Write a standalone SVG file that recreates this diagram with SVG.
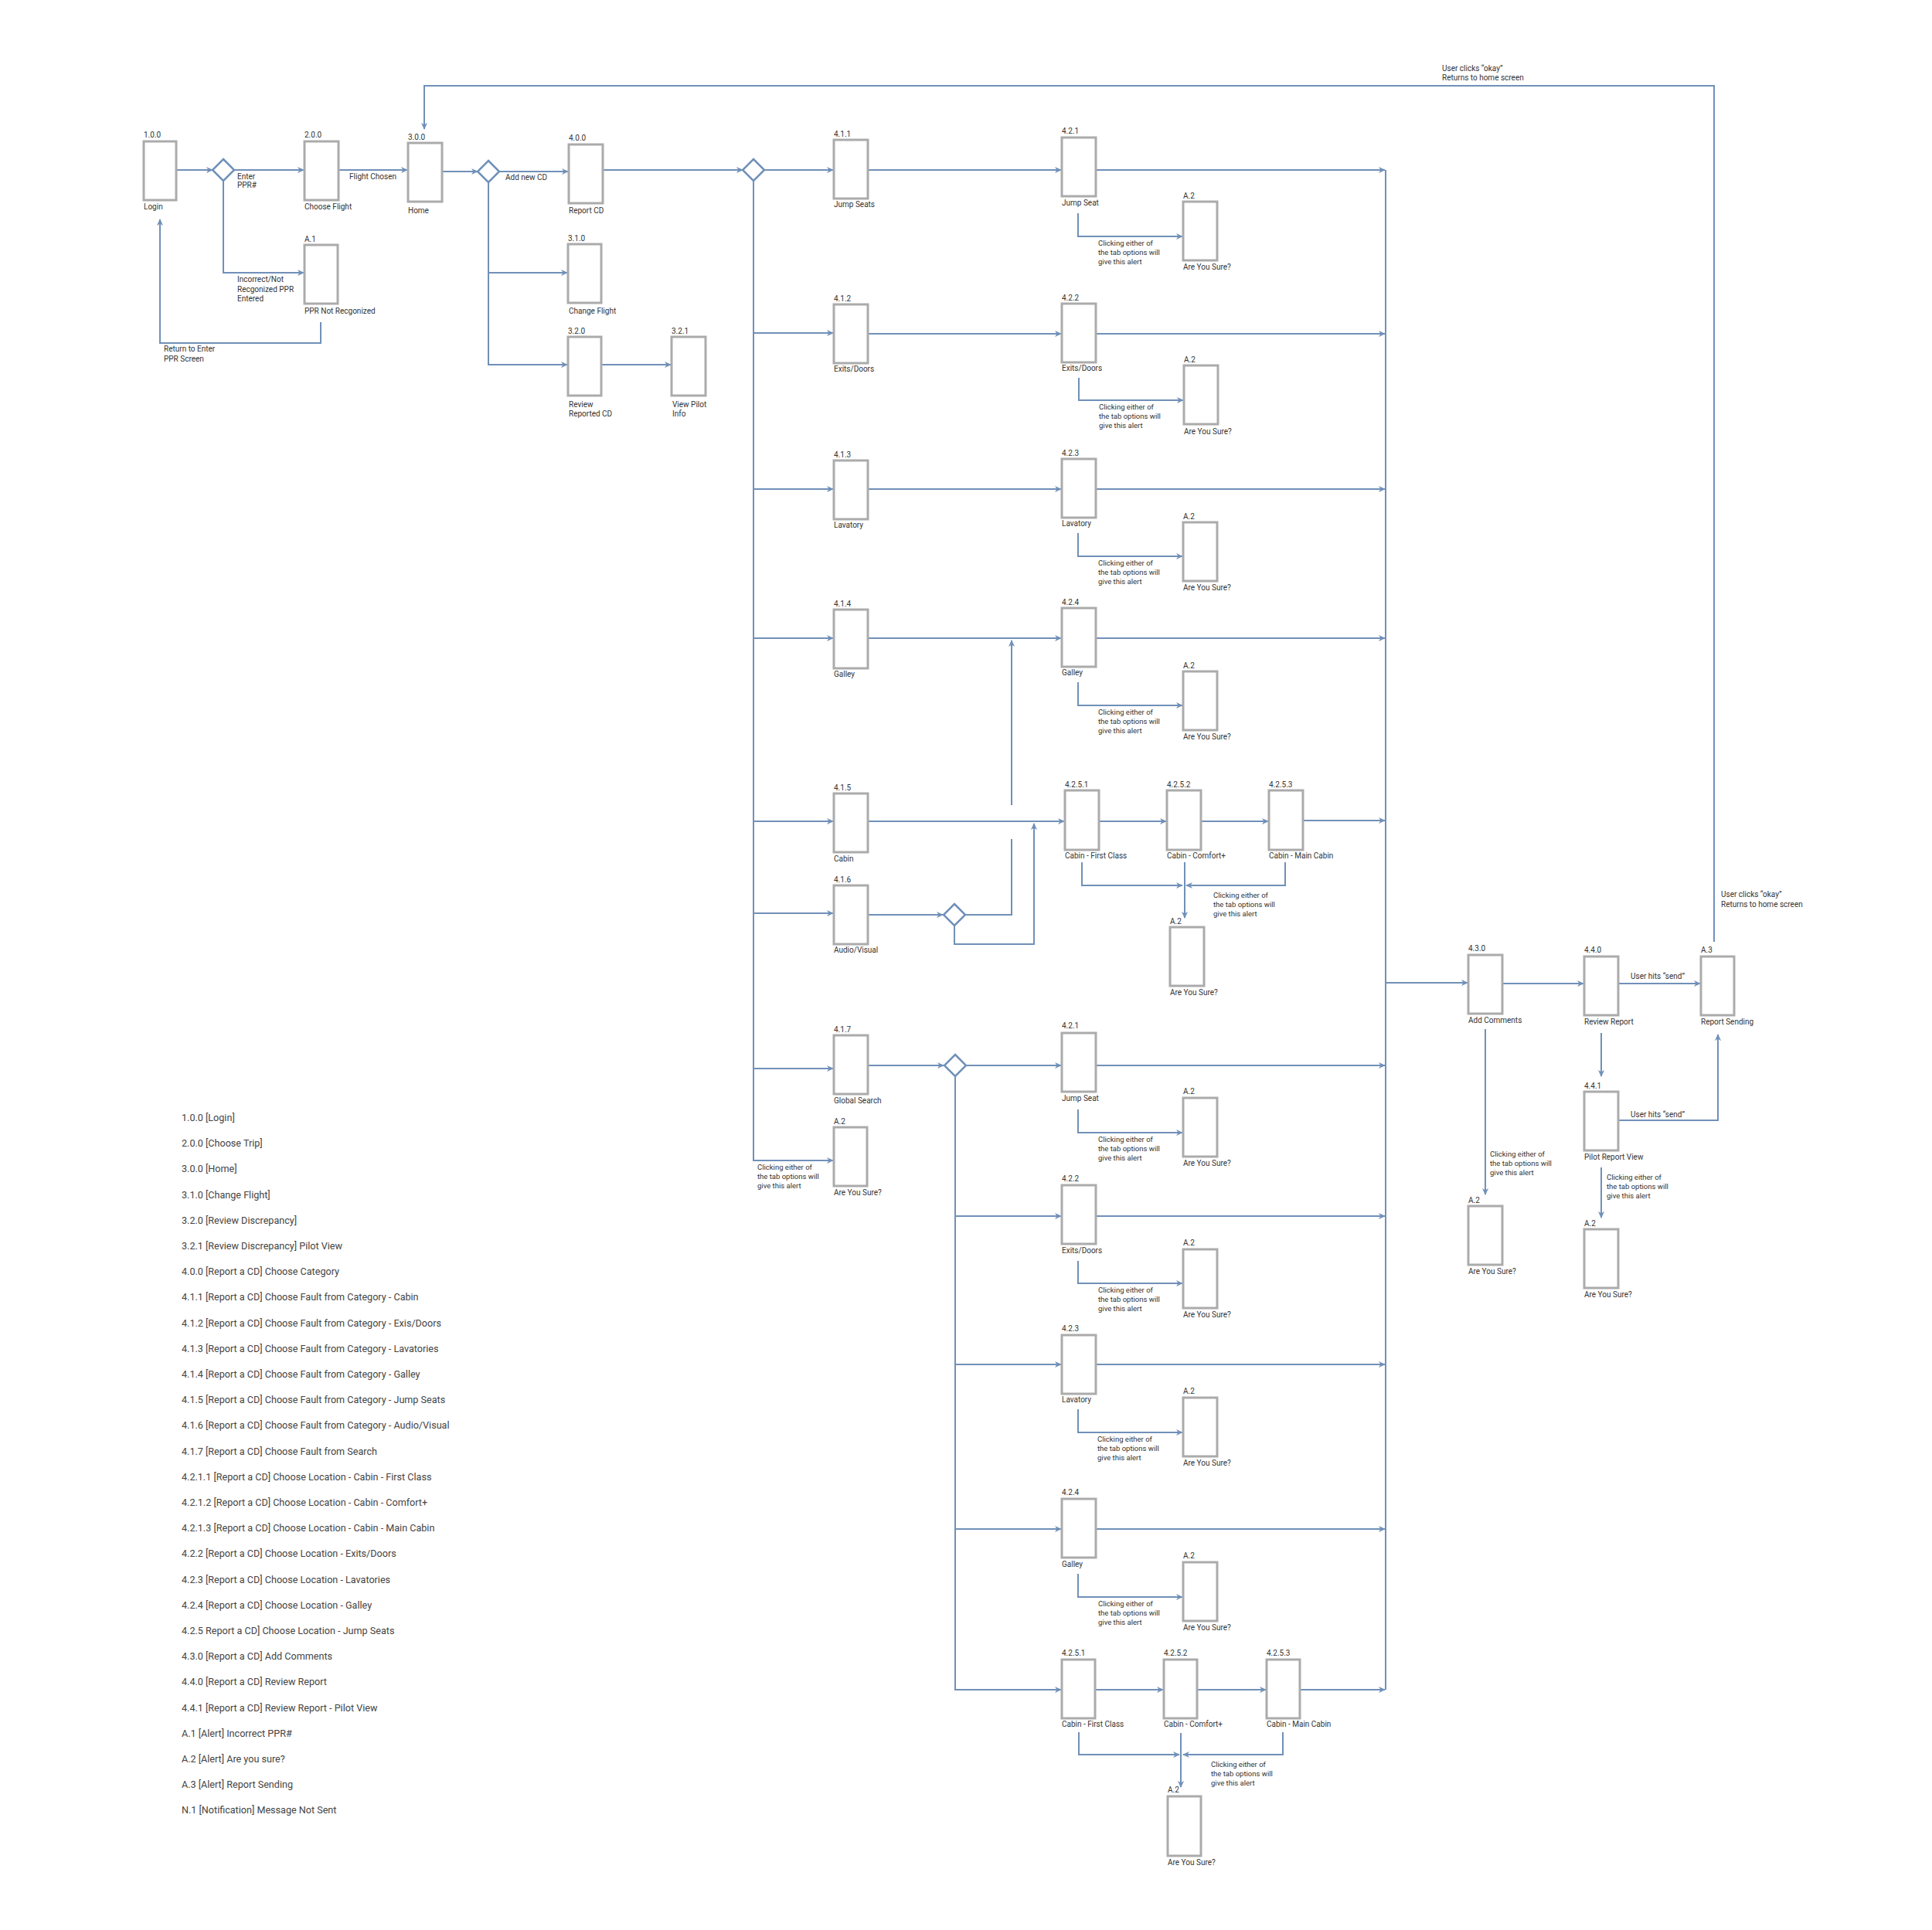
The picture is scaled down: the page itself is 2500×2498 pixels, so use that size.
<svg xmlns="http://www.w3.org/2000/svg" width="2500" height="2498" viewBox="0 0 2500 2498">
<defs>
<style>
.box{fill:#fff;stroke:#ababab;stroke-width:3}
.c{fill:none;stroke:#7090b8;stroke-width:2}
.a{marker-end:url(#ah)}
.dia{fill:#fff;stroke:#7090b8;stroke-width:2.5}
text{font-family:Roboto,"Liberation Sans",sans-serif;fill:#333;font-size:10px}
.s{font-size:9.5px}
.lg{font-size:12.6px;fill:#444}
</style>
<marker id="ah" viewBox="0 0 10 10" refX="9" refY="5" markerWidth="9" markerHeight="9" markerUnits="userSpaceOnUse" orient="auto"><path d="M0,0.5 L10,5 L0,9.5 L3,5 Z" fill="#7090b8"/></marker>
</defs>
<rect width="2500" height="2498" fill="#fff"/>

<g id="connectors">
<path class="c a" d="M229,220 H275"/>
<path class="c a" d="M303,220 H393"/>
<path class="c a" d="M289,234 V353 H393"/>
<path class="c a" d="M415,417 V444 H207 V284"/>
<path class="c a" d="M438,220 H527"/>
<path class="c a" d="M572,222 H618"/>
<path class="c a" d="M646,222 H735"/>
<path class="c a" d="M632,236 V472 H734"/>
<path class="c a" d="M632,353 H734"/>
<path class="c a" d="M778,472 H868"/>
<path class="c a" d="M780,220 H961"/>
<path class="c a" d="M989,220 H1078"/>
<path class="c a" d="M975,234 V1502 H1078"/>
<path class="c a" d="M975,431 H1078"/>
<path class="c a" d="M975,633 H1078"/>
<path class="c a" d="M975,826 H1078"/>
<path class="c a" d="M975,1063 H1078"/>
<path class="c a" d="M975,1182 H1078"/>
<path class="c a" d="M975,1383 H1078"/>
<path class="c a" d="M1123,220 H1373"/>
<path class="c a" d="M1418,220 H1792"/>
<path class="c a" d="M1395,276 V306 H1530"/>
<path class="c a" d="M1123,432 H1373"/>
<path class="c a" d="M1418,432 H1792"/>
<path class="c a" d="M1396,489 V518 H1531"/>
<path class="c a" d="M1123,633 H1373"/>
<path class="c a" d="M1418,633 H1792"/>
<path class="c a" d="M1395,690 V720 H1530"/>
<path class="c a" d="M1123,826 H1373"/>
<path class="c a" d="M1418,826 H1792"/>
<path class="c a" d="M1395,883 V913 H1530"/>
<path class="c a" d="M1123,1063 H1377"/>
<path class="c a" d="M1422,1063 H1509"/>
<path class="c a" d="M1554,1063 H1641"/>
<path class="c a" d="M1686,1062 H1792"/>
<path class="c a" d="M1400,1116 V1146 H1530"/>
<path class="c a" d="M1663,1116 V1146 H1535"/>
<path class="c a" d="M1533,1116 V1188"/>
<path class="c a" d="M1123,1184 H1220"/>
<path class="c" d="M1249,1184 H1309 V1086"/>
<path class="c a" d="M1309,1042 V829"/>
<path class="c a" d="M1235,1198 V1222 H1338 V1066"/>
<path class="c a" d="M1123,1379 H1221"/>
<path class="c a" d="M1250,1379 H1373"/>
<path class="c a" d="M1236,1393 V2187 H1373"/>
<path class="c a" d="M1236,1574 H1373"/>
<path class="c a" d="M1236,1766 H1373"/>
<path class="c a" d="M1236,1979 H1373"/>
<path class="c a" d="M1418,1379 H1792"/>
<path class="c a" d="M1395,1436 V1466 H1530"/>
<path class="c a" d="M1418,1574 H1792"/>
<path class="c a" d="M1395,1632 V1661 H1530"/>
<path class="c a" d="M1418,1766 H1792"/>
<path class="c a" d="M1395,1824 V1854 H1530"/>
<path class="c a" d="M1418,1979 H1792"/>
<path class="c a" d="M1395,2037 V2067 H1530"/>
<path class="c a" d="M1417,2187 H1505"/>
<path class="c a" d="M1549,2187 H1638"/>
<path class="c a" d="M1682,2187 H1792"/>
<path class="c a" d="M1396,2242 V2271 H1526"/>
<path class="c a" d="M1660,2242 V2271 H1531"/>
<path class="c a" d="M1528,2243 V2313"/>
<path class="c" d="M1793,220 V2187"/>
<path class="c a" d="M1793,1272 H1899"/>
<path class="c a" d="M1944,1273 H2049"/>
<path class="c a" d="M2094,1273 H2200"/>
<path class="c a" d="M2072,1337 V1393"/>
<path class="c a" d="M2094,1450 H2223 V1339"/>
<path class="c a" d="M1922,1332 V1546"/>
<path class="c a" d="M2072,1511 V1576"/>
<path class="c a" d="M2218,1219 V111 H549 V167"/>
<text x="307" y="232">Enter</text><text x="307" y="243">PPR#</text>
<text x="452" y="232">Flight Chosen</text>
<text x="307" y="365">Incorrect/Not</text><text x="307" y="378">Recgonized PPR</text><text x="307" y="390">Entered</text>
<text x="212" y="455">Return to Enter</text><text x="212" y="468">PPR Screen</text>
<text x="654" y="233">Add new CD</text>
<text x="1866" y="92">User clicks “okay”</text><text x="1866" y="104">Returns to home screen</text>
<text x="2227" y="1161">User clicks “okay”</text><text x="2227" y="1174">Returns to home screen</text>
<text x="2110" y="1267">User hits “send”</text>
<text x="2110" y="1446">User hits “send”</text>
<text class="s" x="1421" y="318">Clicking either of</text><text class="s" x="1421" y="330">the tab options will</text><text class="s" x="1421" y="342">give this alert</text>
<text class="s" x="1422" y="530">Clicking either of</text><text class="s" x="1422" y="542">the tab options will</text><text class="s" x="1422" y="554">give this alert</text>
<text class="s" x="1421" y="732">Clicking either of</text><text class="s" x="1421" y="744">the tab options will</text><text class="s" x="1421" y="756">give this alert</text>
<text class="s" x="1421" y="925">Clicking either of</text><text class="s" x="1421" y="937">the tab options will</text><text class="s" x="1421" y="949">give this alert</text>
<text class="s" x="1570" y="1162">Clicking either of</text><text class="s" x="1570" y="1174">the tab options will</text><text class="s" x="1570" y="1186">give this alert</text>
<text class="s" x="980" y="1514">Clicking either of</text><text class="s" x="980" y="1526">the tab options will</text><text class="s" x="980" y="1538">give this alert</text>
<text class="s" x="1421" y="1478">Clicking either of</text><text class="s" x="1421" y="1490">the tab options will</text><text class="s" x="1421" y="1502">give this alert</text>
<text class="s" x="1421" y="1673">Clicking either of</text><text class="s" x="1421" y="1685">the tab options will</text><text class="s" x="1421" y="1697">give this alert</text>
<text class="s" x="1420" y="1866">Clicking either of</text><text class="s" x="1420" y="1878">the tab options will</text><text class="s" x="1420" y="1890">give this alert</text>
<text class="s" x="1421" y="2079">Clicking either of</text><text class="s" x="1421" y="2091">the tab options will</text><text class="s" x="1421" y="2103">give this alert</text>
<text class="s" x="1567" y="2287">Clicking either of</text><text class="s" x="1567" y="2299">the tab options will</text><text class="s" x="1567" y="2311">give this alert</text>
<text class="s" x="1928" y="1497">Clicking either of</text><text class="s" x="1928" y="1509">the tab options will</text><text class="s" x="1928" y="1521">give this alert</text>
<text class="s" x="2079" y="1527">Clicking either of</text><text class="s" x="2079" y="1539">the tab options will</text><text class="s" x="2079" y="1551">give this alert</text>
</g>

<g id="d1"><polygon class="dia" points="289,206 303,220 289,234 275,220"/></g>
<g id="d2"><polygon class="dia" points="632,208 646,222 632,236 618,222"/></g>
<g id="d3"><polygon class="dia" points="975,206 989,220 975,234 961,220"/></g>
<g id="d4"><polygon class="dia" points="1235,1170 1249,1184 1235,1198 1221,1184"/></g>
<g id="d5"><polygon class="dia" points="1236,1365 1250,1379 1236,1393 1222,1379"/></g>

<g id="n-1-0-0"><rect class="box" x="186" y="183" width="42" height="76"/><text x="186" y="178">1.0.0</text><text x="186" y="271">Login</text></g>
<g id="n-2-0-0"><rect class="box" x="394" y="183" width="44" height="76"/><text x="394" y="178">2.0.0</text><text x="394" y="271">Choose Flight</text></g>
<g id="n-A-1"><rect class="box" x="394" y="317" width="43" height="76"/><text x="394" y="313">A.1</text><text x="394" y="406">PPR Not Recgonized</text></g>
<g id="n-3-0-0"><rect class="box" x="528" y="185" width="44" height="76"/><text x="528" y="181">3.0.0</text><text x="528" y="276">Home</text></g>
<g id="n-4-0-0"><rect class="box" x="736" y="187" width="44" height="76"/><text x="736" y="182">4.0.0</text><text x="736" y="276">Report CD</text></g>
<g id="n-3-1-0"><rect class="box" x="735" y="316" width="43" height="76"/><text x="735" y="312">3.1.0</text><text x="736" y="406">Change Flight</text></g>
<g id="n-3-2-0"><rect class="box" x="735" y="436" width="43" height="76"/><text x="735" y="432">3.2.0</text><text x="736" y="527">Review</text><text x="736" y="539">Reported CD</text></g>
<g id="n-3-2-1"><rect class="box" x="869" y="436" width="44" height="76"/><text x="869" y="432">3.2.1</text><text x="870" y="527">View Pilot</text><text x="870" y="539">Info</text></g>

<g id="n-4-1-1"><rect class="box" x="1079" y="181" width="44" height="76"/><text x="1079" y="177">4.1.1</text><text x="1079" y="268">Jump Seats</text></g>
<g id="n-4-1-2"><rect class="box" x="1079" y="394" width="44" height="76"/><text x="1079" y="390">4.1.2</text><text x="1079" y="481">Exits/Doors</text></g>
<g id="n-4-1-3"><rect class="box" x="1079" y="596" width="44" height="76"/><text x="1079" y="592">4.1.3</text><text x="1079" y="683">Lavatory</text></g>
<g id="n-4-1-4"><rect class="box" x="1079" y="789" width="44" height="76"/><text x="1079" y="785">4.1.4</text><text x="1079" y="876">Galley</text></g>
<g id="n-4-1-5"><rect class="box" x="1079" y="1027" width="44" height="76"/><text x="1079" y="1023">4.1.5</text><text x="1079" y="1115">Cabin</text></g>
<g id="n-4-1-6"><rect class="box" x="1079" y="1146" width="44" height="76"/><text x="1079" y="1142">4.1.6</text><text x="1079" y="1233">Audio/Visual</text></g>
<g id="n-4-1-7"><rect class="box" x="1079" y="1340" width="44" height="76"/><text x="1079" y="1336">4.1.7</text><text x="1079" y="1428">Global Search</text></g>
<g id="n-A-2-a"><rect class="box" x="1079" y="1459" width="43" height="76"/><text x="1079" y="1455">A.2</text><text x="1079" y="1547">Are You Sure?</text></g>

<g id="n-4-2-1"><rect class="box" x="1374" y="178" width="44" height="76"/><text x="1374" y="173">4.2.1</text><text x="1374" y="266">Jump Seat</text></g>
<g id="n-A-2-b"><rect class="box" x="1531" y="261" width="44" height="76"/><text x="1531" y="257">A.2</text><text x="1531" y="349">Are You Sure?</text></g>
<g id="n-4-2-2"><rect class="box" x="1374" y="393" width="44" height="76"/><text x="1374" y="389">4.2.2</text><text x="1374" y="480">Exits/Doors</text></g>
<g id="n-A-2-c"><rect class="box" x="1532" y="473" width="44" height="76"/><text x="1532" y="469">A.2</text><text x="1532" y="562">Are You Sure?</text></g>
<g id="n-4-2-3"><rect class="box" x="1374" y="594" width="44" height="76"/><text x="1374" y="590">4.2.3</text><text x="1374" y="681">Lavatory</text></g>
<g id="n-A-2-d"><rect class="box" x="1531" y="676" width="44" height="76"/><text x="1531" y="672">A.2</text><text x="1531" y="764">Are You Sure?</text></g>
<g id="n-4-2-4"><rect class="box" x="1374" y="787" width="44" height="76"/><text x="1374" y="783">4.2.4</text><text x="1374" y="874">Galley</text></g>
<g id="n-A-2-e"><rect class="box" x="1531" y="869" width="44" height="76"/><text x="1531" y="865">A.2</text><text x="1531" y="957">Are You Sure?</text></g>
<g id="n-4-2-5-1"><rect class="box" x="1378" y="1023" width="44" height="77"/><text x="1378" y="1019">4.2.5.1</text><text x="1378" y="1111">Cabin - First Class</text></g>
<g id="n-4-2-5-2"><rect class="box" x="1510" y="1023" width="44" height="77"/><text x="1510" y="1019">4.2.5.2</text><text x="1510" y="1111">Cabin - Comfort+</text></g>
<g id="n-4-2-5-3"><rect class="box" x="1642" y="1023" width="44" height="77"/><text x="1642" y="1019">4.2.5.3</text><text x="1642" y="1111">Cabin - Main Cabin</text></g>
<g id="n-A-2-f"><rect class="box" x="1514" y="1200" width="44" height="76"/><text x="1514" y="1196">A.2</text><text x="1514" y="1288">Are You Sure?</text></g>

<g id="n-4-2-1-b"><rect class="box" x="1374" y="1337" width="44" height="76"/><text x="1374" y="1331">4.2.1</text><text x="1374" y="1425">Jump Seat</text></g>
<g id="n-A-2-g"><rect class="box" x="1531" y="1421" width="44" height="76"/><text x="1531" y="1416">A.2</text><text x="1531" y="1509">Are You Sure?</text></g>
<g id="n-4-2-2-b"><rect class="box" x="1374" y="1534" width="44" height="76"/><text x="1374" y="1529">4.2.2</text><text x="1374" y="1622">Exits/Doors</text></g>
<g id="n-A-2-h"><rect class="box" x="1531" y="1617" width="44" height="76"/><text x="1531" y="1612">A.2</text><text x="1531" y="1705">Are You Sure?</text></g>
<g id="n-4-2-3-b"><rect class="box" x="1374" y="1728" width="44" height="76"/><text x="1374" y="1723">4.2.3</text><text x="1374" y="1815">Lavatory</text></g>
<g id="n-A-2-i"><rect class="box" x="1531" y="1809" width="44" height="76"/><text x="1531" y="1804">A.2</text><text x="1531" y="1897">Are You Sure?</text></g>
<g id="n-4-2-4-b"><rect class="box" x="1374" y="1940" width="44" height="76"/><text x="1374" y="1935">4.2.4</text><text x="1374" y="2028">Galley</text></g>
<g id="n-A-2-j"><rect class="box" x="1531" y="2022" width="44" height="76"/><text x="1531" y="2017">A.2</text><text x="1531" y="2110">Are You Sure?</text></g>
<g id="n-4-2-5-1-b"><rect class="box" x="1374" y="2148" width="43" height="76"/><text x="1374" y="2143">4.2.5.1</text><text x="1374" y="2235">Cabin - First Class</text></g>
<g id="n-4-2-5-2-b"><rect class="box" x="1506" y="2148" width="43" height="76"/><text x="1506" y="2143">4.2.5.2</text><text x="1506" y="2235">Cabin - Comfort+</text></g>
<g id="n-4-2-5-3-b"><rect class="box" x="1639" y="2148" width="43" height="76"/><text x="1639" y="2143">4.2.5.3</text><text x="1639" y="2235">Cabin - Main Cabin</text></g>
<g id="n-A-2-k"><rect class="box" x="1511" y="2325" width="43" height="77"/><text x="1511" y="2320">A.2</text><text x="1511" y="2414">Are You Sure?</text></g>

<g id="n-4-3-0"><rect class="box" x="1900" y="1236" width="44" height="76"/><text x="1900" y="1231">4.3.0</text><text x="1900" y="1324">Add Comments</text></g>
<g id="n-4-4-0"><rect class="box" x="2050" y="1238" width="44" height="76"/><text x="2050" y="1233">4.4.0</text><text x="2050" y="1326">Review Report</text></g>
<g id="n-A-3"><rect class="box" x="2201" y="1238" width="43" height="76"/><text x="2201" y="1233">A.3</text><text x="2201" y="1326">Report Sending</text></g>
<g id="n-4-4-1"><rect class="box" x="2050" y="1413" width="44" height="76"/><text x="2050" y="1409">4.4.1</text><text x="2050" y="1501">Pilot Report View</text></g>
<g id="n-A-2-l"><rect class="box" x="1900" y="1561" width="44" height="76"/><text x="1900" y="1557">A.2</text><text x="1900" y="1649">Are You Sure?</text></g>
<g id="n-A-2-m"><rect class="box" x="2050" y="1591" width="44" height="76"/><text x="2050" y="1587">A.2</text><text x="2050" y="1679">Are You Sure?</text></g>

<g id="legend">
<text class="lg" x="235" y="1451">1.0.0 [Login]</text>
<text class="lg" x="235" y="1484">2.0.0 [Choose Trip]</text>
<text class="lg" x="235" y="1517">3.0.0 [Home]</text>
<text class="lg" x="235" y="1551">3.1.0 [Change Flight]</text>
<text class="lg" x="235" y="1584">3.2.0 [Review Discrepancy]</text>
<text class="lg" x="235" y="1617">3.2.1 [Review Discrepancy] Pilot View</text>
<text class="lg" x="235" y="1650">4.0.0 [Report a CD] Choose Category</text>
<text class="lg" x="235" y="1683">4.1.1 [Report a CD] Choose Fault from Category - Cabin</text>
<text class="lg" x="235" y="1717">4.1.2 [Report a CD] Choose Fault from Category - Exis/Doors</text>
<text class="lg" x="235" y="1750">4.1.3 [Report a CD] Choose Fault from Category - Lavatories</text>
<text class="lg" x="235" y="1783">4.1.4 [Report a CD] Choose Fault from Category - Galley</text>
<text class="lg" x="235" y="1816">4.1.5 [Report a CD] Choose Fault from Category - Jump Seats</text>
<text class="lg" x="235" y="1849">4.1.6 [Report a CD] Choose Fault from Category - Audio/Visual</text>
<text class="lg" x="235" y="1883">4.1.7 [Report a CD] Choose Fault from Search</text>
<text class="lg" x="235" y="1916">4.2.1.1 [Report a CD] Choose Location - Cabin - First Class</text>
<text class="lg" x="235" y="1949">4.2.1.2 [Report a CD] Choose Location - Cabin - Comfort+</text>
<text class="lg" x="235" y="1982">4.2.1.3 [Report a CD] Choose Location - Cabin - Main Cabin</text>
<text class="lg" x="235" y="2015">4.2.2 [Report a CD] Choose Location - Exits/Doors</text>
<text class="lg" x="235" y="2049">4.2.3 [Report a CD] Choose Location - Lavatories</text>
<text class="lg" x="235" y="2082">4.2.4 [Report a CD] Choose Location - Galley</text>
<text class="lg" x="235" y="2115">4.2.5 Report a CD] Choose Location - Jump Seats</text>
<text class="lg" x="235" y="2148">4.3.0 [Report a CD] Add Comments</text>
<text class="lg" x="235" y="2181">4.4.0 [Report a CD] Review Report</text>
<text class="lg" x="235" y="2215">4.4.1 [Report a CD] Review Report - Pilot View</text>
<text class="lg" x="235" y="2248">A.1 [Alert] Incorrect PPR#</text>
<text class="lg" x="235" y="2281">A.2 [Alert] Are you sure?</text>
<text class="lg" x="235" y="2314">A.3 [Alert] Report Sending</text>
<text class="lg" x="235" y="2347">N.1 [Notification] Message Not Sent</text>
</g>
</svg>
